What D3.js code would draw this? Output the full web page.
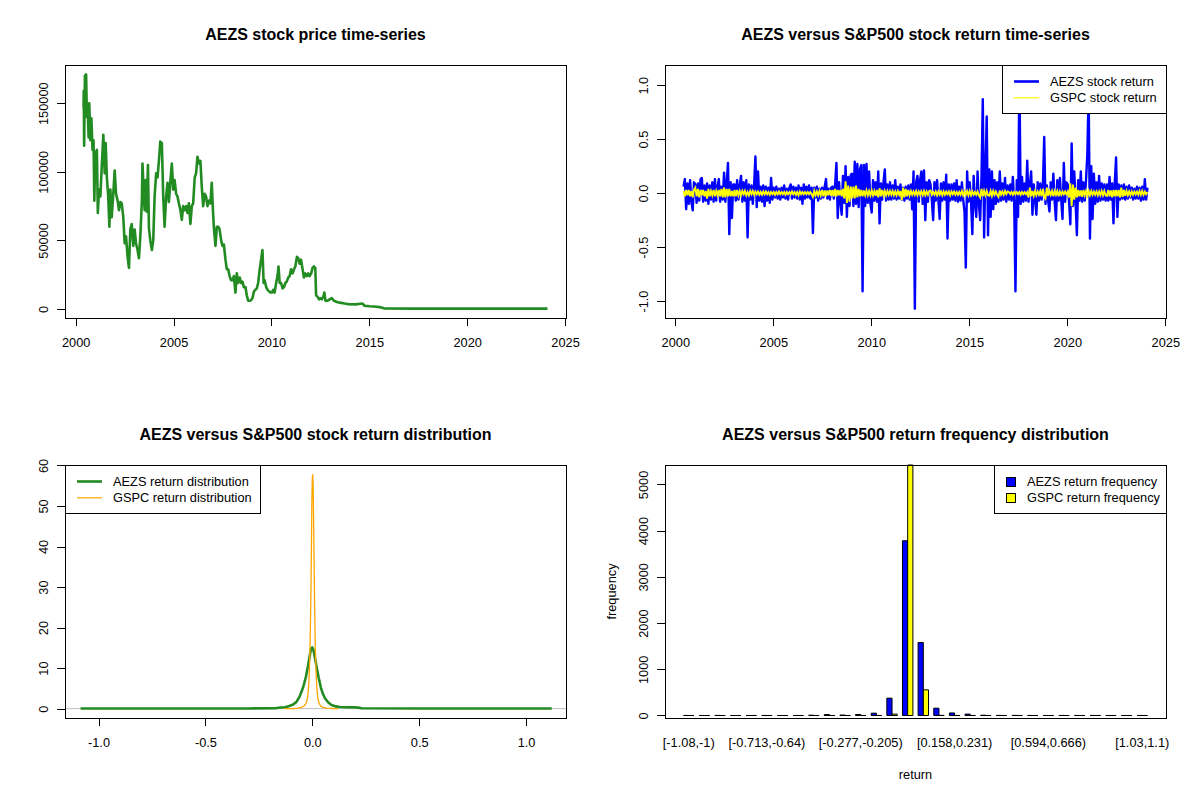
<!DOCTYPE html>
<html>
<head>
<meta charset="utf-8">
<script src="https://cdn.jsdelivr.net/npm/d3@7"></script>
<style>
  body { margin: 0; background: #fff; }
  svg { display: block; }
  text { font-family: "Liberation Sans", Arial, sans-serif; fill: #000; }
</style>
</head>
<body>
<div id="chart"></div>
<script>
// ---- data ----

// AEZS price: [decimal year, price]
var aezsPrice = [
  [2000.40,147000],[2000.41,159000],[2000.43,119000],[2000.47,170000],[2000.53,171000],[2000.57,140000],
  [2000.60,150000],[2000.66,125000],[2000.69,150000],[2000.75,123000],[2000.80,139000],[2000.86,116000],
  [2000.91,123000],[2000.95,79000],[2001.00,113000],[2001.08,116000],[2001.13,70000],[2001.19,87000],
  [2001.26,82000],[2001.33,104000],[2001.41,127000],[2001.48,99000],[2001.53,121000],[2001.59,96000],
  [2001.66,82000],[2001.72,60000],[2001.77,87000],[2001.84,67000],[2001.92,84000],[2001.99,101000],
  [2002.06,84000],[2002.14,79000],[2002.21,72000],[2002.28,78000],[2002.35,77000],[2002.43,67000],
  [2002.50,48000],[2002.57,53000],[2002.65,38000],[2002.72,30000],[2002.79,58000],[2002.86,62000],
  [2002.94,46000],[2003.01,58000],[2003.08,48000],[2003.16,43000],[2003.23,37000],[2003.30,53000],
  [2003.38,79000],[2003.41,106000],[2003.47,87000],[2003.52,72000],[2003.58,94000],[2003.63,71000],
  [2003.69,105000],[2003.74,59000],[2003.81,50000],[2003.89,43000],[2003.96,50000],[2004.03,82000],
  [2004.11,99000],[2004.18,96000],[2004.25,108000],[2004.32,122000],[2004.40,121000],[2004.47,82000],
  [2004.54,60000],[2004.62,82000],[2004.69,92000],[2004.76,78000],[2004.84,94000],[2004.91,106000],
  [2004.98,87000],[2005.05,94000],[2005.13,84000],[2005.20,82000],[2005.27,77000],[2005.35,72000],
  [2005.42,65000],[2005.49,75000],[2005.57,72000],[2005.64,75000],[2005.71,70000],[2005.78,77000],
  [2005.86,62000],[2005.93,75000],[2006.00,77000],[2006.08,96000],[2006.15,99000],[2006.22,111000],
  [2006.30,106000],[2006.37,108000],[2006.44,89000],[2006.51,75000],[2006.59,84000],[2006.66,82000],
  [2006.73,75000],[2006.81,79000],[2006.88,77000],[2006.95,92000],[2007.01,72000],[2007.06,59000],
  [2007.14,46000],[2007.21,60000],[2007.28,60000],[2007.35,58000],[2007.43,50000],[2007.50,46000],
  [2007.57,47000],[2007.65,36000],[2007.72,29000],[2007.79,29000],[2007.86,24000],[2007.94,21000],
  [2008.01,21000],[2008.08,24000],[2008.16,12000],[2008.23,26000],[2008.30,19000],[2008.38,23000],
  [2008.45,19000],[2008.52,20000],[2008.59,16000],[2008.67,16000],[2008.74,10000],[2008.81,6000],
  [2008.89,6000],[2008.96,6500],[2009.03,8000],[2009.11,13000],[2009.18,14000],[2009.25,15000],
  [2009.32,19000],[2009.40,29000],[2009.47,36000],[2009.54,43000],[2009.60,19000],[2009.65,21000],
  [2009.73,16000],[2009.80,14000],[2009.87,13000],[2009.95,12000],[2010.02,12000],[2010.09,14000],
  [2010.16,12000],[2010.24,19000],[2010.31,24000],[2010.36,31000],[2010.42,19000],[2010.49,19000],
  [2010.57,15000],[2010.64,16000],[2010.71,19000],[2010.78,20000],[2010.86,23000],[2010.93,24000],
  [2011.00,29000],[2011.08,26000],[2011.15,29000],[2011.22,31000],[2011.30,38000],[2011.37,37000],
  [2011.44,33000],[2011.51,36000],[2011.59,29000],[2011.66,23000],[2011.73,26000],[2011.81,24000],
  [2011.88,26000],[2011.95,24000],[2012.03,26000],[2012.10,30000],[2012.17,31000],[2012.24,30000],
  [2012.28,10000],[2012.35,9000],[2012.43,7000],[2012.50,8000],[2012.57,7000],[2012.65,9000],
  [2012.70,12000],[2012.76,6000],[2012.86,6000],[2012.97,7000],[2013.08,8000],[2013.19,6000],
  [2013.38,5000],[2013.56,4500],[2013.74,4000],[2013.92,3600],[2014.29,3400],[2014.65,4000],
  [2014.76,2400],[2015.02,2000],[2015.38,1700],[2015.60,1200],[2015.75,500],[2017.21,300],[2024.10,300]
];

// returns sampled every 1/15 year starting at retStart
var retStart = 2000.42;
var retStep = 1 / 15;

var aezsReturn = [
  0.06, 0.13, -0.15, 0.09, -0.1, 0.12, -0.08, -0.16, 0.1,                                   // 2000
  0.08, -0.09, 0.09, -0.07, 0.13, 0.14, -0.08, 0.07, -0.07, 0.09, -0.1, 0.07, -0.06, 0.1, -0.08,  // 2001
  0.13, -0.07, 0.06, 0.13, -0.08, 0.06, -0.06, 0.19, -0.08, 0.09, 0.28, -0.38, 0.1, -0.23, 0.08,  // 2002
  0.08, -0.07, 0.12, -0.06, 0.07, 0.16, -0.08, 0.1, -0.07, 0.12, -0.41, 0.08, -0.06, 0.07, -0.1,  // 2003
  0.08, 0.34, -0.13, 0.2, -0.07, 0.06, -0.08, 0.07, -0.12, 0.06, -0.07, 0.05, -0.09, 0.14, -0.06, // 2004
  0.05, -0.04, 0.06, -0.05, 0.04, -0.06, 0.05, -0.04, 0.07, -0.05, 0.04, -0.06, 0.05, 0.08, -0.05, // 2005
  0.06, -0.04, 0.05, -0.05, 0.07, -0.06, 0.05, -0.1, 0.08, -0.05, 0.06, -0.04, 0.07, -0.05, 0.05,  // 2006
  -0.37, 0.05, -0.04, 0.06, -0.07, 0.04, -0.05, 0.05, -0.04, 0.06, 0.13, -0.05, 0.04, -0.06, 0.05, // 2007
  0.06, -0.05, 0.08, 0.28, -0.23, 0.1, -0.08, -0.2, 0.16, -0.09, 0.25, -0.22, 0.15, -0.12, 0.17,   // 2008
  0.18, -0.12, 0.29, -0.1, 0.27, -0.13, 0.22, 0.26, -0.91, 0.26, -0.12, 0.27, -0.09, 0.2, -0.1,    // 2009
  -0.18, 0.12, -0.07, 0.1, -0.08, 0.2, -0.28, 0.09, -0.06, 0.1, 0.22, -0.07, 0.08, -0.06, 0.1,     // 2010
  -0.06, 0.07, -0.05, 0.12, -0.06, 0.06, -0.05, 0.08, -0.06, 0.05, -0.07, 0.06, -0.05, 0.07, -0.06, // 2011
  0.08, -0.15, 0.2, -1.07, 0.1, 0.16, -0.08, 0.12, 0.2, -0.1, 0.21, -0.25, 0.1, -0.08, 0.12,       // 2012
  0.08, -0.06, -0.25, 0.1, -0.07, 0.12, -0.06, -0.24, 0.09, -0.07, 0.1, -0.06, 0.17, -0.42, 0.08,  // 2013
  -0.07, 0.08, -0.06, 0.09, -0.07, 0.12, -0.08, 0.06, -0.07, 0.1, -0.06, -0.17, -0.69, 0.2, -0.08, // 2014
  0.1, -0.08, -0.38, 0.16, -0.09, -0.22, 0.2, -0.1, -0.25, 0.15, 0.87, -0.41, 0.22, 0.71, -0.39,   // 2015
  0.22, -0.22, 0.2, -0.15, 0.12, -0.1, 0.1, -0.08, 0.2, -0.07, 0.09, -0.06, 0.14, -0.08, 0.07,     // 2016
  -0.06, 0.08, -0.07, 0.15, -0.08, -0.91, 0.12, -0.22, 1.1, -0.1, 0.15, -0.08, 0.09, -0.07, 0.3,   // 2017
  -0.08, 0.07, 0.2, -0.2, 0.08, -0.06, -0.2, 0.1, -0.07, 0.09, -0.06, 0.08, 0.52, -0.1, 0.07,      // 2018
  -0.07, -0.17, 0.1, -0.06, 0.18, -0.08, -0.25, 0.12, -0.07, 0.14, -0.06, -0.24, 0.28, -0.08, 0.1, // 2019
  0.08, -0.07, -0.29, 0.46, -0.12, 0.2, -0.08, -0.39, 0.12, -0.07, 0.2, -0.08, 0.1, -0.07, 0.12,   // 2020
  0.36, 0.95, -0.42, 0.25, -0.24, 0.18, -0.1, 0.1, -0.08, 0.16, -0.07, 0.09, -0.06, 0.08, -0.07,   // 2021
  0.08, -0.07, 0.15, -0.06, 0.09, -0.28, 0.1, 0.33, -0.22, 0.08, -0.06, 0.07, -0.05, 0.08, -0.06,  // 2022
  0.06, -0.05, 0.07, -0.04, 0.05, -0.06, 0.04, -0.05, 0.06, -0.05, 0.05, -0.07, 0.06, -0.06, 0.13, // 2023
  -0.06, 0.05                                                                                      // 2024
];

var gspcReturn = [
  0.02, -0.03, 0.03, -0.02, 0.03, -0.03, 0.02, -0.04, 0.03,                                             // 2000
  0.05, -0.03, 0.04, -0.04, 0.03, -0.02, 0.03, -0.03, 0.02, -0.05, 0.04, -0.03, 0.02, -0.02, 0.03,          // 2001
  -0.03, 0.02, -0.02, 0.03, -0.03, 0.04, -0.04, 0.05, -0.04, 0.04, -0.03, 0.04, -0.03, 0.02, -0.03,         // 2002
  0.03, -0.03, 0.03, -0.02, 0.02, -0.02, 0.02, -0.01, 0.02, -0.02, 0.01, -0.02, 0.02, -0.01, 0.02,          // 2003
  -0.015, 0.015, -0.01, 0.015, -0.015, 0.01, -0.015, 0.015, -0.01, 0.015, -0.01, 0.01, -0.015, 0.01, -0.01, // 2004
  0.01, -0.015, 0.01, -0.01, 0.015, -0.01, 0.01, -0.01, 0.01, -0.015, 0.01, -0.01, 0.01, -0.01, 0.015,      // 2005
  -0.01, 0.01, -0.015, 0.01, -0.02, 0.015, -0.01, 0.01, -0.01, 0.01, -0.01, 0.01, -0.01, 0.01, -0.01,       // 2006
  -0.035, 0.02, -0.02, 0.015, -0.02, 0.02, -0.02, 0.03, -0.03, 0.025, -0.03, 0.025, -0.02, 0.03, -0.025,    // 2007
  0.03, -0.03, 0.04, -0.03, 0.03, -0.02, 0.03, -0.03, 0.04, -0.05, 0.11, -0.09, 0.07, -0.08, 0.06,          // 2008
  -0.05, 0.06, -0.05, 0.07, -0.04, 0.04, -0.03, 0.03, -0.03, 0.025, -0.02, 0.025, -0.02, 0.02, -0.02,       // 2009
  0.025, -0.02, 0.02, -0.025, 0.03, -0.04, 0.045, -0.03, 0.03, -0.02, 0.02, -0.02, 0.02, -0.015, 0.02,      // 2010
  -0.015, 0.02, -0.02, 0.015, -0.02, 0.02, -0.015, 0.02, -0.065, 0.05, -0.04, 0.04, -0.03, 0.03, -0.02,     // 2011
  0.02, -0.015, 0.015, -0.015, 0.02, -0.02, 0.015, -0.015, 0.015, -0.02, 0.02, -0.02, 0.015, -0.015, 0.02,  // 2012
  0.025, -0.015, 0.01, -0.015, 0.015, -0.02, 0.015, -0.015, 0.015, -0.02, 0.015, -0.015, 0.015, -0.01, 0.015, // 2013
  -0.02, 0.015, -0.01, 0.015, -0.015, 0.01, -0.015, 0.01, -0.015, 0.02, -0.02, 0.015, -0.015, 0.02, -0.02,  // 2014
  0.02, -0.02, 0.015, -0.015, 0.01, -0.015, 0.015, -0.02, -0.04, 0.04, -0.03, 0.02, -0.02, 0.02, -0.02,     // 2015
  -0.025, 0.02, -0.025, 0.02, -0.015, 0.015, -0.015, -0.035, 0.025, -0.015, 0.015, -0.015, 0.02, -0.01, 0.015, // 2016
  0.01, -0.01, 0.01, -0.015, 0.01, -0.01, 0.01, -0.01, 0.01, -0.015, 0.01, -0.01, 0.01, -0.01, 0.01,        // 2017
  -0.04, 0.05, -0.03, 0.02, -0.025, 0.02, -0.02, 0.015, -0.015, 0.02, -0.03, 0.04, -0.03, -0.05, 0.05,      // 2018
  -0.025, 0.02, -0.015, 0.02, -0.03, 0.02, -0.015, 0.02, -0.03, 0.015, -0.015, 0.015, -0.01, 0.015, -0.01,  // 2019
  0.015, -0.04, 0.09, -0.12, 0.08, -0.06, 0.05, -0.04, 0.03, -0.03, 0.025, -0.035, 0.03, -0.02, 0.02,       // 2020
  -0.025, 0.02, -0.02, 0.02, -0.015, 0.015, -0.015, 0.015, -0.02, 0.015, -0.02, 0.02, -0.02, 0.02, -0.02,   // 2021
  -0.025, 0.03, -0.03, 0.025, -0.04, 0.03, -0.03, 0.03, -0.03, 0.03, -0.04, 0.05, -0.035, 0.03, -0.025,     // 2022
  0.02, -0.02, 0.015, -0.02, 0.015, -0.015, 0.015, -0.01, 0.015, -0.015, 0.02, -0.015, 0.02, -0.015, 0.015, // 2023
  -0.01, 0.01                                                                                               // 2024
];

// kernel density curves: [return, density]
var aezsDensity = [
  [-1.084,0.03],[-0.6,0.03],[-0.3,0.05],[-0.17,0.08],[-0.16,0.2],[-0.13,0.35],[-0.11,0.6],[-0.09,1.0],
  [-0.075,1.6],[-0.06,2.9],[-0.05,4.2],[-0.04,5.8],[-0.03,7.8],[-0.02,10.5],[-0.012,13.0],[-0.006,14.8],
  [0,15.1],[0.005,14.5],[0.01,13.3],[0.015,11.8],[0.02,10.3],[0.03,7.6],[0.04,5.2],[0.05,3.6],[0.06,2.5],
  [0.075,1.5],[0.09,0.9],[0.11,0.55],[0.13,0.4],[0.16,0.35],[0.2,0.3],[0.215,0.25],[0.23,0.08],
  [0.5,0.04],[0.8,0.03],[1.12,0.03]
];
var gspcDensity = [
  [-0.13,0],[-0.09,0.02],[-0.07,0.1],[-0.05,0.3],[-0.04,0.6],[-0.03,1.2],[-0.025,2.0],[-0.02,3.6],
  [-0.016,6.5],[-0.012,12],[-0.009,19.5],[-0.006,30],[-0.004,40],[-0.002,51],[0,56.5],[0.002,57.8],
  [0.004,55],[0.006,47],[0.008,38],[0.011,25],[0.014,15],[0.018,8.5],[0.022,4.5],[0.027,2.3],
  [0.033,1.2],[0.04,0.6],[0.05,0.3],[0.07,0.1],[0.1,0.02],[0.12,0]
];

// return frequency table (30 bins)
var binLabels = [
  "[-1.08,-1)", "[-1,-0.931)", "[-0.931,-0.858)", "[-0.858,-0.786)", "[-0.786,-0.713)",
  "[-0.713,-0.64)", "[-0.64,-0.568)", "[-0.568,-0.495)", "[-0.495,-0.423)", "[-0.423,-0.35)",
  "[-0.35,-0.277)", "[-0.277,-0.205)", "[-0.205,-0.132)", "[-0.132,-0.0596)", "[-0.0596,0.013)",
  "[0.013,0.0856)", "[0.0856,0.158)", "[0.158,0.231)", "[0.231,0.303)", "[0.303,0.376)",
  "[0.376,0.449)", "[0.449,0.521)", "[0.521,0.594)", "[0.594,0.666)", "[0.666,0.739)",
  "[0.739,0.812)", "[0.812,0.884)", "[0.884,0.957)", "[0.957,1.03)", "[1.03,1.1)"
];
var aezsFreq = [1, 0, 2, 0, 0, 1, 0, 0, 6, 20, 10, 22, 50, 375, 3780, 1580, 158, 55, 30, 6, 2, 2, 1, 0, 1, 1, 1, 0, 0, 1];
var gspcFreq = [0, 0, 0, 0, 0, 0, 0, 0, 0, 0, 0, 0, 1, 30, 5420, 555, 3, 0, 0, 0, 0, 0, 0, 0, 0, 0, 0, 0, 0, 0];

// tick values
var yearTicks = [2000, 2005, 2010, 2015, 2020, 2025];
var priceTicks = [0, 50000, 100000, 150000];
var returnTicks = [-1, -0.5, 0, 0.5, 1];
var densityYTicks = [0, 10, 20, 30, 40, 50, 60];
var freqTicks = [0, 1000, 2000, 3000, 4000, 5000];

// ---- layout ----
var W = 1200, H = 800;
var box = {left: 65, right: 566, top: 65, bottom: 318};
var axisFont = 12.8, titleFont = 16;

// R pads the data range by 4% on each side
function rRange(lo, hi) {
  var d = (hi - lo) * 0.04;
  return [lo - d, hi + d];
}
function fmt1(d) { return d.toFixed(1); }
function fmtInt(d) { return String(d); }

var svg = d3.select("#chart").append("svg")
  .attr("width", W)
  .attr("height", H);
svg.append("rect").attr("width", W).attr("height", H).attr("fill", "#fff");

function makePanel(px, py, id) {
  var g = svg.append("g").attr("transform", "translate(" + px + "," + py + ")");
  g.append("clipPath").attr("id", id)
    .append("rect")
      .attr("x", box.left).attr("y", box.top)
      .attr("width", box.right - box.left)
      .attr("height", box.bottom - box.top);
  return g;
}

function drawTitle(g, t) {
  g.append("text")
    .attr("x", (box.left + box.right) / 2)
    .attr("y", 40)
    .attr("text-anchor", "middle")
    .style("font-size", titleFont + "px")
    .style("font-weight", "bold")
    .text(t);
}

function drawXAxis(g, scale, ticks, fmt) {
  var ax = g.append("g")
    .attr("transform", "translate(0," + box.bottom + ")")
    .call(d3.axisBottom(scale).tickValues(ticks).tickFormat(fmt)
      .tickSize(8).tickSizeOuter(0).tickPadding(11.8));
  ax.select(".domain").remove();
  ax.selectAll("line").attr("stroke", "#000").style("shape-rendering", "crispEdges");
  ax.selectAll("text")
    .style("font-size", axisFont + "px")
    .style("font-family", "'Liberation Sans', Arial, sans-serif");
}

function drawYAxis(g, scale, ticks, fmt) {
  var ax = g.append("g")
    .attr("transform", "translate(" + box.left + ",0)")
    .call(d3.axisLeft(scale).tickValues(ticks).tickFormat(fmt)
      .tickSize(8).tickSizeOuter(0));
  ax.select(".domain").remove();
  ax.selectAll("line").attr("stroke", "#000").style("shape-rendering", "crispEdges");
  ax.selectAll("text")
    .attr("x", null).attr("dy", null)
    .attr("text-anchor", "middle")
    .attr("transform", "translate(-17,0) rotate(-90)")
    .style("font-size", axisFont + "px")
    .style("font-family", "'Liberation Sans', Arial, sans-serif");
}

function drawBox(g) {
  g.append("rect")
    .attr("x", box.left).attr("y", box.top)
    .attr("width", box.right - box.left)
    .attr("height", box.bottom - box.top)
    .attr("fill", "none")
    .attr("stroke", "#000")
    .style("shape-rendering", "crispEdges");
}

// legend: items {label, color, kind: "line"|"fill", width}
function drawLegend(g, x0, x1, items) {
  g.append("rect")
    .attr("x", x0).attr("y", box.top)
    .attr("width", x1 - x0).attr("height", 48)
    .attr("fill", "#fff").attr("stroke", "#000")
    .style("shape-rendering", "crispEdges");
  items.forEach(function(it, i) {
    var cy = box.top + 16.5 + i * 16.3;
    if (it.kind == "line") {
      g.append("line")
        .attr("x1", x0 + 12).attr("x2", x0 + 37)
        .attr("y1", cy).attr("y2", cy)
        .attr("stroke", it.color).attr("stroke-width", it.width);
      g.append("text").attr("x", x0 + 48).attr("y", cy + 4.5)
        .style("font-size", axisFont + "px").text(it.label);
    } else {
      g.append("rect")
        .attr("x", x0 + 12).attr("y", cy - 4.5)
        .attr("width", 9).attr("height", 9)
        .attr("fill", it.color).attr("stroke", "#000")
        .style("shape-rendering", "crispEdges");
      g.append("text").attr("x", x0 + 33).attr("y", cy + 4.5)
        .style("font-size", axisFont + "px").text(it.label);
    }
  });
}

// ---- panel 1: price ----
var p1 = makePanel(0, 0, "clip1");
var x1 = d3.scaleLinear()
  .domain(rRange(d3.min(aezsPrice, d => d[0]), d3.max(aezsPrice, d => d[0])))
  .range([box.left, box.right]);
var y1 = d3.scaleLinear()
  .domain(rRange(d3.min(aezsPrice, d => d[1]), d3.max(aezsPrice, d => d[1])))
  .range([box.bottom, box.top]);

p1.append("path")
  .datum(aezsPrice)
  .attr("clip-path", "url(#clip1)")
  .attr("fill", "none")
  .attr("stroke", "#228B22")
  .attr("stroke-width", 2.6)
  .attr("stroke-linejoin", "round")
  .attr("d", d3.line().x(d => x1(d[0])).y(d => y1(d[1])));

drawXAxis(p1, x1, yearTicks, fmtInt);
drawYAxis(p1, y1, priceTicks, fmtInt);
drawBox(p1);
drawTitle(p1, "AEZS stock price time-series");

// ---- panel 2: returns ----
var p2 = makePanel(600, 0, "clip2");
var aezsRetPts = aezsReturn.map((v, i) => [retStart + i * retStep, v]);
var gspcRetPts = gspcReturn.map((v, i) => [retStart + i * retStep, v]);

var x2 = d3.scaleLinear()
  .domain(rRange(d3.min(aezsRetPts, d => d[0]), d3.max(aezsRetPts, d => d[0])))
  .range([box.left, box.right]);
var y2 = d3.scaleLinear()
  .domain(rRange(d3.min(aezsReturn), d3.max(aezsReturn)))
  .range([box.bottom, box.top]);
var line2 = d3.line().x(d => x2(d[0])).y(d => y2(d[1]));

p2.append("path")
  .datum(aezsRetPts)
  .attr("clip-path", "url(#clip2)")
  .attr("fill", "none")
  .attr("stroke", "#0000FF")
  .attr("stroke-width", 2.4)
  .attr("stroke-linejoin", "round")
  .attr("d", line2);
p2.append("path")
  .datum(gspcRetPts)
  .attr("clip-path", "url(#clip2)")
  .attr("fill", "none")
  .attr("stroke", "#FFFF00")
  .attr("stroke-width", 1.9)
  .attr("d", line2);

drawXAxis(p2, x2, yearTicks, fmtInt);
drawYAxis(p2, y2, returnTicks, fmt1);
drawBox(p2);
drawLegend(p2, 402, box.right, [
  {label: "AEZS stock return", color: "#0000FF", kind: "line", width: 2.6},
  {label: "GSPC stock return", color: "#FFFF00", kind: "line", width: 1.2}
]);
drawTitle(p2, "AEZS versus S&P500 stock return time-series");

// ---- panel 3: density ----
var p3 = makePanel(0, 400, "clip3");
var x3 = d3.scaleLinear()
  .domain(rRange(d3.min(aezsReturn), d3.max(aezsReturn)))
  .range([box.left, box.right]);
var y3 = d3.scaleLinear()
  .domain(rRange(0, d3.max(gspcDensity, d => d[1])))
  .range([box.bottom, box.top]);
var line3 = d3.line().x(d => x3(d[0])).y(d => y3(d[1]));

// zero line first, so the green tails stay visible on top of it
p3.append("line")
  .attr("x1", box.left).attr("x2", box.right)
  .attr("y1", y3(0)).attr("y2", y3(0))
  .attr("stroke", "#BEBEBE").attr("stroke-width", 1);
p3.append("path")
  .datum(aezsDensity)
  .attr("clip-path", "url(#clip3)")
  .attr("fill", "none")
  .attr("stroke", "#228B22")
  .attr("stroke-width", 2.6)
  .attr("stroke-linejoin", "round")
  .attr("d", line3);
p3.append("path")
  .datum(gspcDensity)
  .attr("clip-path", "url(#clip3)")
  .attr("fill", "none")
  .attr("stroke", "#FFA500")
  .attr("stroke-width", 1.3)
  .attr("d", line3);

drawXAxis(p3, x3, returnTicks, fmt1);
drawYAxis(p3, y3, densityYTicks, fmtInt);
drawBox(p3);
drawLegend(p3, box.left, 260, [
  {label: "AEZS return distribution", color: "#228B22", kind: "line", width: 2.6},
  {label: "GSPC return distribution", color: "#FFA500", kind: "line", width: 1.2}
]);
drawTitle(p3, "AEZS versus S&P500 stock return distribution");

// ---- panel 4: grouped frequency bars ----
var p4 = makePanel(600, 400, "clip4");
var nBins = binLabels.length;
var maxFreq = d3.max(aezsFreq.concat(gspcFreq));
// each group: one unit of space, then two bars of width one
var x4 = d3.scaleLinear()
  .domain(rRange(1, 3 * nBins))
  .range([box.left, box.right]);
var y4 = d3.scaleLinear()
  .domain([-0.01 * maxFreq, maxFreq])
  .range([box.bottom, box.top]);

var bars = [];
binLabels.forEach(function(lab, i) {
  var g = i + 1;
  bars.push({x0: 3 * g - 2, x1: 3 * g - 1, v: aezsFreq[i], fill: "#0000FF"});
  bars.push({x0: 3 * g - 1, x1: 3 * g, v: gspcFreq[i], fill: "#FFFF00"});
});

p4.selectAll("path.bar")
  .data(bars)
  .enter()
  .append("path")
    .attr("class", "bar")
    .attr("d", function(d) {
      var a = x4(d.x0), b = x4(d.x1), y0 = y4(0), yv = y4(d.v);
      return "M" + a + "," + y0 + "H" + b + "V" + yv + "H" + a + "Z";
    })
    .attr("fill", d => d.fill)
    .attr("stroke", "#000")
    .attr("stroke-width", 1);

// names under groups, skipping the ones that would overlap (like R's axis)
var lastRight = -Infinity;
binLabels.forEach(function(lab, i) {
  var cx = x4(3 * (i + 1) - 1);
  var t = p4.append("text")
    .attr("x", cx)
    .attr("y", box.bottom + 29)
    .attr("text-anchor", "middle")
    .style("font-size", axisFont + "px")
    .text(lab);
  var w = t.node().getComputedTextLength();
  if (cx - w / 2 < lastRight + 9) {
    t.remove();
  } else {
    lastRight = cx + w / 2;
  }
});

drawYAxis(p4, y4, freqTicks, fmtInt);
drawBox(p4);
drawLegend(p4, 394, box.right, [
  {label: "AEZS return frequency", color: "#0000FF", kind: "fill"},
  {label: "GSPC return frequency", color: "#FFFF00", kind: "fill"}
]);
drawTitle(p4, "AEZS versus S&P500 return frequency distribution");

p4.append("text")
  .attr("x", (box.left + box.right) / 2)
  .attr("y", 379)
  .attr("text-anchor", "middle")
  .style("font-size", axisFont + "px")
  .text("return");
p4.append("text")
  .attr("transform", "translate(15.5," + (box.top + box.bottom) / 2 + ") rotate(-90)")
  .attr("text-anchor", "middle")
  .style("font-size", axisFont + "px")
  .text("frequency");
</script>
</body>
</html>
